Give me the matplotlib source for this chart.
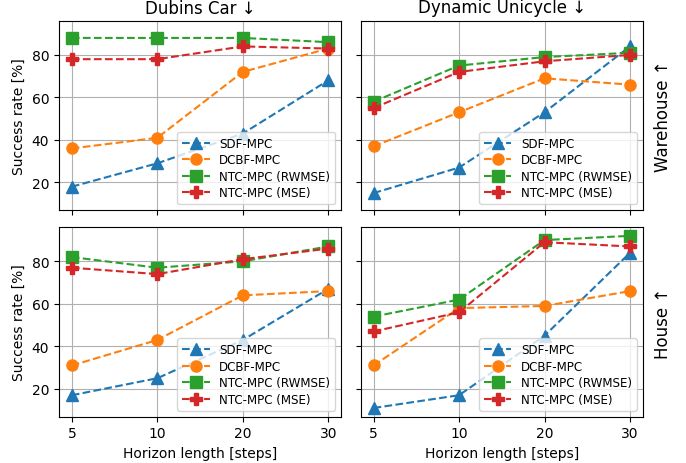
import matplotlib
matplotlib.use("Agg")
import matplotlib.pyplot as plt
import numpy as np

horizons = ["5", "10", "20", "30"]
methods = ["SDF-MPC", "DCBF-MPC", "NTC-MPC (RWMSE)", "NTC-MPC (MSE)"]
markers = ["^", "o", "s", "P"]
colors = ["#1f77b4", "#ff7f0e", "#2ca02c", "#d62728"]

col_titles = ["Dubins Car ↓", "Dynamic Unicycle ↓"]
row_titles = ["Warehouse ↑", "House ↑"]

dubins_warehouse = {
    "SDF-MPC": [18, 29, 43, 68],
    "DCBF-MPC": [36, 41, 72, 83],
    "NTC-MPC (RWMSE)": [88, 88, 88, 86],
    "NTC-MPC (MSE)": [78, 78, 84, 83],
}
unicycle_warehouse = {
    "SDF-MPC": [15, 27, 53, 84],
    "DCBF-MPC": [37, 53, 69, 66],
    "NTC-MPC (RWMSE)": [58, 75, 79, 81],
    "NTC-MPC (MSE)": [55, 72, 77, 80],
}
dubins_house = {
    "SDF-MPC": [17, 25, 43, 67],
    "DCBF-MPC": [31, 43, 64, 66],
    "NTC-MPC (RWMSE)": [82, 77, 80, 87],
    "NTC-MPC (MSE)": [77, 74, 81, 86],
}
unicycle_house = {
    "SDF-MPC": [11, 17, 45, 84],
    "DCBF-MPC": [31, 58, 59, 66],
    "NTC-MPC (RWMSE)": [54, 62, 90, 92],
    "NTC-MPC (MSE)": [47, 56, 89, 87],
}

grid = [[dubins_warehouse, unicycle_warehouse], [dubins_house, unicycle_house]]

fig, axes = plt.subplots(2, 2, figsize=(6.86, 4.64), dpi=100, sharex=True, sharey=True)
fig.subplots_adjust(left=0.086, right=0.937, top=0.953, bottom=0.10, wspace=0.07, hspace=0.09)

x = np.arange(len(horizons))
for r in range(2):
    for c in range(2):
        ax = axes[r][c]
        data = grid[r][c]
        for m, mk, col in zip(methods, markers, colors):
            ax.plot(x, data[m], linestyle="--", marker=mk, color=col, markersize=8, label=m)
        ax.grid(True)
        ax.legend(loc="lower right", fontsize=8.6, labelspacing=0.3,
                  handlelength=2.3, borderaxespad=0.5)
        ax.set_xticks(x)
        ax.set_xticklabels(horizons)
        if r == 0:
            ax.set_title(col_titles[c], fontsize=12)
        if r == 1:
            ax.set_xlabel("Horizon length [steps]")
        if c == 0:
            ax.set_ylabel("Success rate [%]")
        if c == 1:
            ax.yaxis.set_label_position("right")
            ax.set_ylabel(row_titles[r], fontsize=12, labelpad=8)

fig.savefig("out.png", dpi=100)
